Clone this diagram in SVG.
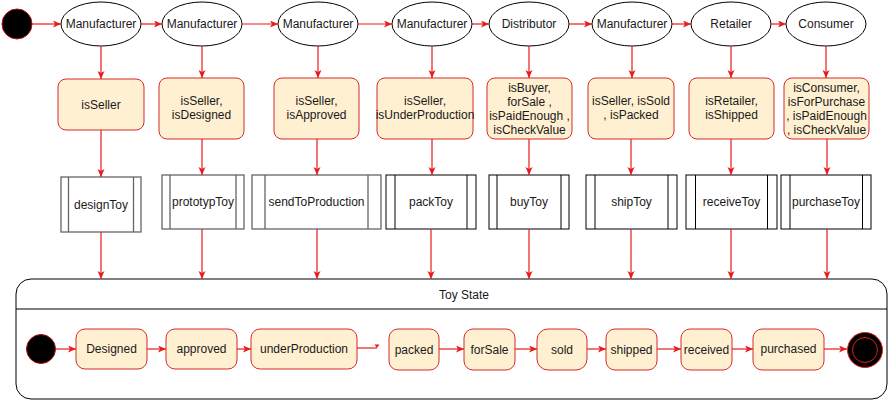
<svg xmlns="http://www.w3.org/2000/svg" width="889" height="401" viewBox="0 0 889 401">
<style>
text{font-family:"Liberation Sans",Arial,sans-serif;font-size:12px;fill:#1a1a1a;text-anchor:middle;dominant-baseline:central}
.actor{fill:#fff;stroke:#000;stroke-width:1}
.cond{fill:#fff0d2;stroke:#d42a2a;stroke-width:1}
.proc{fill:#fff;stroke:#000;stroke-width:1}
.procg{fill:#fff;stroke:#666;stroke-width:1.3}
.st{fill:#fff0d2;stroke:#d42a2a;stroke-width:1}
.edge{fill:none;stroke:#e81c1c;stroke-width:1.2}
</style>
<defs>
<marker id="ah" markerUnits="userSpaceOnUse" markerWidth="9" markerHeight="8" refX="8" refY="3.5" orient="auto">
<path d="M0,0 L8,3.5 L0,7 L2,3.5 z" fill="#e81c1c"/>
</marker>
</defs>

<g id="start-top"><circle cx="17" cy="24" r="15" fill="#000" stroke="#b01010" stroke-width="1"/></g>

<g id="actor1"><ellipse class="actor" cx="101" cy="24" rx="40" ry="22"/><text x="101" y="24">Manufacturer</text></g>
<g id="actor2"><ellipse class="actor" cx="202" cy="24" rx="40" ry="22"/><text x="202" y="24">Manufacturer</text></g>
<g id="actor3"><ellipse class="actor" cx="318" cy="24" rx="40" ry="22"/><text x="318" y="24">Manufacturer</text></g>
<g id="actor4"><ellipse class="actor" cx="432" cy="24" rx="40" ry="22"/><text x="432" y="24">Manufacturer</text></g>
<g id="actor5"><ellipse class="actor" cx="529" cy="24" rx="40" ry="22"/><text x="529" y="24">Distributor</text></g>
<g id="actor6"><ellipse class="actor" cx="632" cy="24" rx="40" ry="22"/><text x="632" y="24">Manufacturer</text></g>
<g id="actor7"><ellipse class="actor" cx="731" cy="24" rx="40" ry="22"/><text x="731" y="24">Retailer</text></g>
<g id="actor8"><ellipse class="actor" cx="826" cy="24" rx="40" ry="22"/><text x="826" y="24">Consumer</text></g>

<g id="cond1"><rect class="cond" x="58" y="79" width="86" height="51" rx="8"/><text x="101" y="104.5">isSeller</text></g>
<g id="cond2"><rect class="cond" x="159" y="78" width="85" height="61" rx="8"/><text x="201.5" y="101">isSeller,</text><text x="201.5" y="115">isDesigned</text></g>
<g id="cond3"><rect class="cond" x="274" y="78" width="85" height="61" rx="8"/><text x="316.5" y="101">isSeller,</text><text x="316.5" y="115">isApproved</text></g>
<g id="cond4"><rect class="cond" x="377" y="78" width="96" height="61" rx="8"/><text x="425" y="101">isSeller,</text><text x="425" y="115">isUnderProduction</text></g>
<g id="cond5"><rect class="cond" x="487" y="78" width="85" height="61" rx="8"/><text x="529.5" y="87.5">isBuyer,</text><text x="529.5" y="101.5">forSale ,</text><text x="529.5" y="115.5">isPaidEnough ,</text><text x="529.5" y="129.5">isCheckValue</text></g>
<g id="cond6"><rect class="cond" x="588" y="78" width="86" height="61" rx="8"/><text x="631" y="101">isSeller, isSold</text><text x="631" y="115">, isPacked</text></g>
<g id="cond7"><rect class="cond" x="689" y="78" width="85" height="61" rx="8"/><text x="731.5" y="101">isRetailer,</text><text x="731.5" y="115">isShipped</text></g>
<g id="cond8"><rect class="cond" x="784" y="78" width="85" height="61" rx="8"/><text x="826.5" y="87.5">isConsumer,</text><text x="826.5" y="101.5">isForPurchase</text><text x="826.5" y="115.5">, isPaidEnough</text><text x="826.5" y="129.5">, isCheckValue</text></g>

<g id="proc1"><rect class="procg" x="61" y="177" width="80" height="55"/><path class="procg" d="M68.5,177V232M133.5,177V232"/><text x="101" y="205">designToy</text></g>
<g id="proc2"><rect class="procg" x="162" y="175" width="82" height="54"/><path class="procg" d="M170,175V229M236,175V229"/><text x="203" y="202">prototypToy</text></g>
<g id="proc3"><rect class="procg" x="252" y="175" width="129" height="54"/><path class="procg" d="M265,175V229M368,175V229"/><text x="316.5" y="202">sendToProduction</text></g>
<g id="proc4"><rect class="proc" x="386" y="175" width="90" height="54"/><path class="proc" d="M395,175V229M467,175V229"/><text x="431" y="202">packToy</text></g>
<g id="proc5"><rect class="proc" x="489" y="175" width="80" height="54"/><path class="proc" d="M497,175V229M561,175V229"/><text x="529" y="202">buyToy</text></g>
<g id="proc6"><rect class="proc" x="586" y="175" width="91" height="54"/><path class="proc" d="M595,175V229M668,175V229"/><text x="631.5" y="202">shipToy</text></g>
<g id="proc7"><rect class="proc" x="686" y="175" width="91" height="54"/><path class="proc" d="M695.5,175V229M767.5,175V229"/><text x="731.5" y="202">receiveToy</text></g>
<g id="proc8"><rect class="proc" x="781" y="175" width="90" height="54"/><path class="proc" d="M790,175V229M862.5,175V229"/><text x="826" y="202">purchaseToy</text></g>

<g id="toy-state">
<path d="M31,279 H872 A15,15 0 0 1 887,294 V384 A15,15 0 0 1 872,399 H31 A15,15 0 0 1 16,384 V294 A15,15 0 0 1 31,279 Z" fill="#fff" stroke="#000" stroke-width="1"/>
<line x1="16" y1="309" x2="887" y2="309" stroke="#000" stroke-width="1"/>
<text x="464" y="295">Toy State</text>
</g>

<g id="start-state"><circle cx="41" cy="349" r="14.5" fill="#000" stroke="#b01010" stroke-width="1"/></g>
<g id="s-designed"><rect class="st" x="76" y="329" width="71" height="40" rx="9"/><text x="111.5" y="349">Designed</text></g>
<g id="s-approved"><rect class="st" x="166" y="329" width="71" height="40" rx="9"/><text x="201.5" y="349">approved</text></g>
<g id="s-underProduction"><rect class="st" x="251" y="329" width="106" height="40" rx="9"/><text x="304" y="349">underProduction</text></g>
<g id="s-packed"><rect class="st" x="389" y="329" width="50" height="41" rx="9"/><text x="414" y="350">packed</text></g>
<g id="s-forSale"><rect class="st" x="464" y="329" width="51" height="41" rx="9"/><text x="489.5" y="350">forSale</text></g>
<g id="s-sold"><rect class="st" x="537" y="329" width="50" height="41" rx="11"/><text x="562" y="350">sold</text></g>
<g id="s-shipped"><rect class="st" x="606" y="329" width="51" height="41" rx="9"/><text x="631.5" y="350">shipped</text></g>
<g id="s-received"><rect class="st" x="681" y="329" width="51" height="41" rx="9"/><text x="706.5" y="350">received</text></g>
<g id="s-purchased"><rect class="st" x="753" y="329" width="71" height="41" rx="9"/><text x="788.5" y="349">purchased</text></g>
<g id="end-state"><circle cx="865" cy="350" r="17.5" fill="#000" stroke="#e81c1c" stroke-width="1"/><circle cx="865" cy="350" r="12.5" fill="none" stroke="#e81c1c" stroke-width="1"/></g>

<g id="connectors">
<path class="edge" marker-end="url(#ah)" d="M32,24H61"/>
<path class="edge" marker-end="url(#ah)" d="M141,24H162"/>
<path class="edge" marker-end="url(#ah)" d="M242,24H278"/>
<path class="edge" marker-end="url(#ah)" d="M358,24H392"/>
<path class="edge" marker-end="url(#ah)" d="M472,24H489"/>
<path class="edge" marker-end="url(#ah)" d="M569,24H592"/>
<path class="edge" marker-end="url(#ah)" d="M672,24H691"/>
<path class="edge" marker-end="url(#ah)" d="M771,24H786"/>

<path class="edge" marker-end="url(#ah)" d="M101,46V79"/>
<path class="edge" marker-end="url(#ah)" d="M202,46V78"/>
<path class="edge" marker-end="url(#ah)" d="M318,46V78"/>
<path class="edge" marker-end="url(#ah)" d="M432,46V78"/>
<path class="edge" marker-end="url(#ah)" d="M529,46V78"/>
<path class="edge" marker-end="url(#ah)" d="M632,46V78"/>
<path class="edge" marker-end="url(#ah)" d="M731,46V78"/>
<path class="edge" marker-end="url(#ah)" d="M826,46V78"/>

<path class="edge" marker-end="url(#ah)" d="M101,130V177"/>
<path class="edge" marker-end="url(#ah)" d="M202,139V175"/>
<path class="edge" marker-end="url(#ah)" d="M317,139V175"/>
<path class="edge" marker-end="url(#ah)" d="M432,139V175"/>
<path class="edge" marker-end="url(#ah)" d="M529,139V175"/>
<path class="edge" marker-end="url(#ah)" d="M631,139V175"/>
<path class="edge" marker-end="url(#ah)" d="M731,139V175"/>
<path class="edge" marker-end="url(#ah)" d="M827,139V175"/>

<path class="edge" marker-end="url(#ah)" d="M101,232V279"/>
<path class="edge" marker-end="url(#ah)" d="M202,229V279"/>
<path class="edge" marker-end="url(#ah)" d="M317,229V279"/>
<path class="edge" marker-end="url(#ah)" d="M431,229V279"/>
<path class="edge" marker-end="url(#ah)" d="M529,229V279"/>
<path class="edge" marker-end="url(#ah)" d="M631,229V279"/>
<path class="edge" marker-end="url(#ah)" d="M731,229V279"/>
<path class="edge" marker-end="url(#ah)" d="M827,229V279"/>

<path class="edge" marker-end="url(#ah)" d="M56,349H76"/>
<path class="edge" marker-end="url(#ah)" d="M147,349H166"/>
<path class="edge" marker-end="url(#ah)" d="M237,349H251"/>
<path class="edge" d="M357,348H377"/>
<path d="M374.5,344.5 L379.5,344.5 L377,348 z" fill="#e81c1c"/>
<path class="edge" marker-end="url(#ah)" d="M439,349H464"/>
<path class="edge" marker-end="url(#ah)" d="M515,349H537"/>
<path class="edge" marker-end="url(#ah)" d="M587,349H606"/>
<path class="edge" marker-end="url(#ah)" d="M657,349H681"/>
<path class="edge" marker-end="url(#ah)" d="M732,349H753"/>
<path class="edge" marker-end="url(#ah)" d="M824,349H847"/>
</g>
</svg>
